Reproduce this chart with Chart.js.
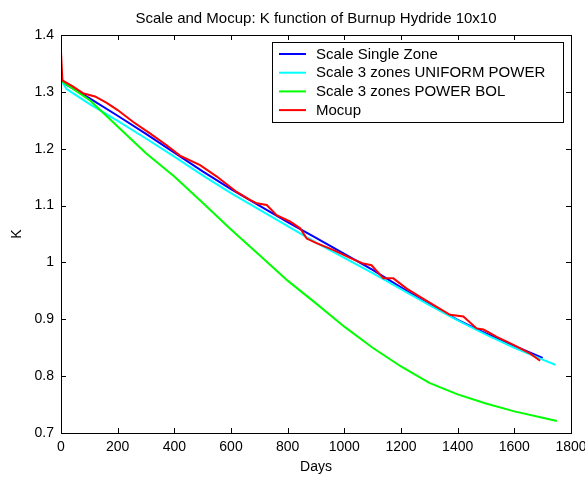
<!DOCTYPE html>
<html>
<head>
<meta charset="utf-8">
<script src="https://cdn.jsdelivr.net/npm/chart.js@4/dist/chart.umd.min.js"></script>
<style>
html,body{margin:0;padding:0;background:#fff;}
#c{display:block;}
</style>
</head>
<body>
<canvas id="c" width="585" height="477"></canvas>
<script>
const titleText = "Scale and Mocup: K function of Burnup Hydride 10x10";
const xLabel = "Days";
const yLabel = "K";
const seriesNames = ["Scale Single Zone", "Scale 3 zones UNIFORM POWER", "Scale 3 zones POWER BOL", "Mocup"];
const seriesColors = ["#0000ff", "#00ffff", "#00ff00", "#ff0000"];

const xTicks = [0, 200, 400, 600, 800, 1000, 1200, 1400, 1600, 1800];
const yTicks = [0.7, 0.8, 0.9, 1.0, 1.1, 1.2, 1.3, 1.4];

const singleDays = [0, 100, 200, 300, 400, 500, 600, 700, 800, 900, 1000, 1100, 1200, 1300, 1400, 1500, 1600, 1700];
const singleK = [1.318, 1.289, 1.258, 1.226, 1.193, 1.160, 1.129, 1.100, 1.071, 1.043, 1.015, 0.987, 0.956, 0.926, 0.899, 0.875, 0.853, 0.832];

const uniformDays = [0, 20, 50, 100, 200, 300, 400, 500, 600, 700, 800, 900, 1000, 1100, 1200, 1300, 1400, 1500, 1600, 1700, 1745];
const uniformK = [1.320, 1.305, 1.295, 1.279, 1.249, 1.218, 1.186, 1.153, 1.122, 1.093, 1.064, 1.035, 1.008, 0.981, 0.953, 0.925, 0.898, 0.873, 0.850, 0.829, 0.820];

const bolDays = [0, 5, 100, 200, 300, 400, 500, 600, 700, 800, 900, 1000, 1100, 1200, 1300, 1400, 1500, 1600, 1700, 1750];
const bolK = [1.345, 1.318, 1.286, 1.239, 1.192, 1.151, 1.105, 1.058, 1.013, 0.968, 0.928, 0.887, 0.850, 0.817, 0.788, 0.768, 0.752, 0.738, 0.727, 0.721];

const mocupDays = [0, 5, 40, 80, 120, 160, 200, 255, 314, 373, 420, 491, 550, 620, 667, 691, 726, 761, 808, 844, 867, 902, 960, 1020, 1067, 1096, 1138, 1173, 1220, 1279, 1326, 1373, 1420, 1467, 1491, 1538, 1597, 1655, 1691];
const mocupK = [1.370, 1.320, 1.310, 1.297, 1.292, 1.281, 1.268, 1.247, 1.227, 1.206, 1.188, 1.171, 1.151, 1.124, 1.110, 1.104, 1.101, 1.083, 1.072, 1.060, 1.042, 1.034, 1.022, 1.008, 0.998, 0.995, 0.972, 0.972, 0.954, 0.936, 0.922, 0.908, 0.905, 0.884, 0.882, 0.869, 0.855, 0.840, 0.827];

function pts(xs, ys){ return xs.map((x,i)=>({x:x, y:ys[i]})); }

const FONT = "Arial, 'Liberation Sans', Helvetica, sans-serif";

const decor = {
  id: 'decor',
  afterDraw(chart){
    const ctx = chart.ctx;
    const a = chart.chartArea;
    const xs = chart.scales.x, ys = chart.scales.y;
    ctx.save();
    // box
    ctx.strokeStyle = '#000';
    ctx.lineWidth = 1;
    ctx.strokeRect(Math.round(a.left)+0.5, Math.round(a.top)+0.5, Math.round(a.right-a.left), Math.round(a.bottom-a.top));
    // inward ticks
    const tl = 5;
    ctx.beginPath();
    xTicks.forEach(v=>{
      const px = Math.round(xs.getPixelForValue(v))+0.5;
      ctx.moveTo(px, a.bottom); ctx.lineTo(px, a.bottom-tl);
      ctx.moveTo(px, a.top); ctx.lineTo(px, a.top+tl);
    });
    yTicks.forEach(v=>{
      const py = Math.round(ys.getPixelForValue(v))+0.5;
      ctx.moveTo(a.left, py); ctx.lineTo(a.left+tl, py);
      ctx.moveTo(a.right, py); ctx.lineTo(a.right-tl, py);
    });
    ctx.stroke();
    // title
    ctx.fillStyle = '#000';
    ctx.font = '15px ' + FONT;
    ctx.textAlign = 'center';
    ctx.textBaseline = 'middle';
    ctx.fillText(titleText, (a.left+a.right)/2, 19);
    // axis labels
    ctx.font = '14px ' + FONT;
    ctx.fillText(xLabel, (a.left+a.right)/2, 467);
    ctx.save();
    ctx.translate(17, (a.top+a.bottom)/2);
    ctx.rotate(-Math.PI/2);
    ctx.fillText(yLabel, 0, 0);
    ctx.restore();
    // legend
    ctx.font = '15px ' + FONT;
    const lx0 = a.right - 299, ly0 = a.top + 7, lw = 291, lh = 80;
    ctx.fillStyle = '#fff';
    ctx.fillRect(lx0, ly0, lw, lh);
    ctx.strokeStyle = '#000';
    ctx.lineWidth = 1;
    ctx.strokeRect(Math.round(lx0)+0.5, Math.round(ly0)+0.5, lw, lh);
    ctx.textAlign = 'left';
    seriesNames.forEach((n,i)=>{
      const y = ly0 + 12 + i*18.7;
      ctx.strokeStyle = seriesColors[i];
      ctx.lineWidth = 2;
      ctx.beginPath();
      ctx.moveTo(lx0+7, y); ctx.lineTo(lx0+34, y);
      ctx.stroke();
      ctx.fillStyle = '#000';
      ctx.fillText(n, lx0+44, y+0.5);
    });
    ctx.restore();
  }
};

const datasets = [
  {label: seriesNames[0], data: pts(singleDays, singleK), borderColor: seriesColors[0], order: 3},
  {label: seriesNames[1], data: pts(uniformDays, uniformK), borderColor: seriesColors[1], order: 2},
  {label: seriesNames[2], data: pts(bolDays, bolK), borderColor: seriesColors[2], order: 1},
  {label: seriesNames[3], data: pts(mocupDays, mocupK), borderColor: seriesColors[3], order: 0}
].map(d=>Object.assign(d, {borderWidth: 2, pointRadius: 0, tension: 0, fill: false}));

new Chart(document.getElementById('c'), {
  type: 'line',
  data: {datasets},
  options: {
    responsive: false,
    animation: false,
    layout: {padding: {left: 0, top: 35, right: 14, bottom: 0}},
    plugins: {legend: {display: false}, tooltip: {enabled: false}, title: {display: false}},
    scales: {
      x: {
        type: 'linear', min: 0, max: 1800,
        afterBuildTicks: s => { s.ticks = xTicks.map(v=>({value:v})); },
        afterFit: s => { s.height = 44; s.paddingLeft = 0; s.paddingRight = 0; },
        grid: {display: false, drawTicks: false},
        border: {display: false},
        ticks: {color: '#000', font: {family: FONT, size: 14}, padding: 6, maxRotation: 0, autoSkip: false,
                callback: v => String(v)}
      },
      y: {
        type: 'linear', min: 0.7, max: 1.4,
        afterBuildTicks: s => { s.ticks = yTicks.map(v=>({value:v})); },
        afterFit: s => { s.width = 61; s.paddingTop = 0; s.paddingBottom = 0; },
        grid: {display: false, drawTicks: false},
        border: {display: false},
        ticks: {color: '#000', font: {family: FONT, size: 14}, padding: 7, autoSkip: false,
                callback: v => String(Math.round(v*10)/10)}
      }
    }
  },
  plugins: [decor]
});
</script>
</body>
</html>
